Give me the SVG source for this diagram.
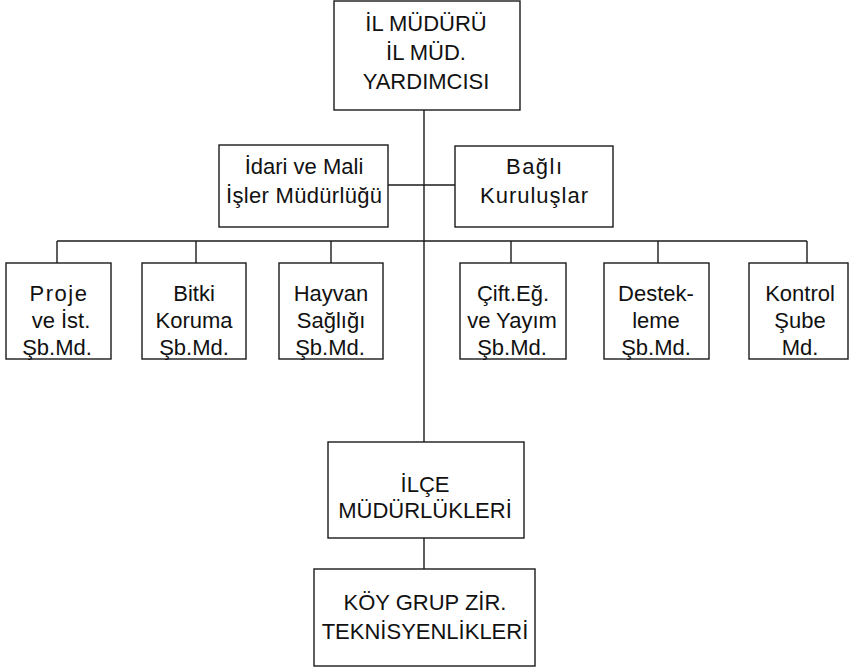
<svg xmlns="http://www.w3.org/2000/svg" width="850" height="670" viewBox="0 0 850 670">
  <style>
    .box { fill: #ffffff; stroke: #1a1a1a; stroke-width: 1.4; }
    .wire { fill: none; stroke: #1a1a1a; stroke-width: 1.4; }
    .lbl { font-family: "Liberation Sans", Arial, Helvetica, sans-serif; font-size: 22px; fill: #111111; text-anchor: middle; }
  </style>
  <rect width="850" height="670" fill="#ffffff"/>

  <!-- connectors -->
  <g id="connectors">
    <line class="wire" x1="424" y1="110" x2="424" y2="442"/>
    <line class="wire" x1="388" y1="185" x2="455" y2="185"/>
    <line class="wire" x1="57" y1="241" x2="807" y2="241"/>
    <line class="wire" x1="57" y1="241" x2="57" y2="263"/>
    <line class="wire" x1="196" y1="241" x2="196" y2="263"/>
    <line class="wire" x1="331" y1="241" x2="331" y2="263"/>
    <line class="wire" x1="511" y1="241" x2="511" y2="263"/>
    <line class="wire" x1="658" y1="241" x2="658" y2="263"/>
    <line class="wire" x1="807" y1="241" x2="807" y2="263"/>
    <line class="wire" x1="424" y1="538" x2="424" y2="569"/>
  </g>

  <!-- top management -->
  <g id="il-muduru">
    <rect class="box" x="334" y="1" width="186" height="109"/>
    <text class="lbl" x="426" y="31">İL MÜDÜRÜ</text>
    <text class="lbl" x="426" y="60">İL MÜD.</text>
    <text class="lbl" x="426" y="89">YARDIMCISI</text>
  </g>

  <g id="idari-mali">
    <rect class="box" x="219" y="145" width="169" height="82"/>
    <text class="lbl" x="304" y="174">İdari ve Mali</text>
    <text class="lbl" x="304" y="203" textLength="156" lengthAdjust="spacing">İşler Müdürlüğü</text>
  </g>

  <g id="bagli-kuruluslar">
    <rect class="box" x="455" y="146" width="158" height="81"/>
    <text class="lbl" x="534" y="174" textLength="56" lengthAdjust="spacing">Bağlı</text>
    <text class="lbl" x="534" y="203" textLength="108" lengthAdjust="spacing">Kuruluşlar</text>
  </g>

  <!-- branch offices -->
  <g id="proje">
    <rect class="box" x="6" y="263" width="105" height="96"/>
    <text class="lbl" x="59" y="301" letter-spacing="1.5">Proje</text>
    <text class="lbl" x="61" y="328">ve İst.</text>
    <text class="lbl" x="57" y="355">Şb.Md.</text>
  </g>

  <g id="bitki">
    <rect class="box" x="142" y="263" width="104" height="96"/>
    <text class="lbl" x="194" y="301">Bitki</text>
    <text class="lbl" x="194" y="328">Koruma</text>
    <text class="lbl" x="194" y="355">Şb.Md.</text>
  </g>

  <g id="hayvan">
    <rect class="box" x="279" y="263" width="104" height="96"/>
    <text class="lbl" x="331" y="301">Hayvan</text>
    <text class="lbl" x="331" y="328">Sağlığı</text>
    <text class="lbl" x="330" y="355">Şb.Md.</text>
  </g>

  <g id="ciftci-egitim">
    <rect class="box" x="460" y="263" width="106" height="96"/>
    <text class="lbl" x="513" y="301">Çift.Eğ.</text>
    <text class="lbl" x="512" y="328">ve Yayım</text>
    <text class="lbl" x="512" y="355">Şb.Md.</text>
  </g>

  <g id="destekleme">
    <rect class="box" x="604" y="263" width="105" height="96"/>
    <text class="lbl" x="656" y="301">Destek-</text>
    <text class="lbl" x="656" y="328">leme</text>
    <text class="lbl" x="656" y="355">Şb.Md.</text>
  </g>

  <g id="kontrol">
    <rect class="box" x="749" y="263" width="99" height="96"/>
    <text class="lbl" x="800" y="301">Kontrol</text>
    <text class="lbl" x="800" y="328">Şube</text>
    <text class="lbl" x="800" y="355">Md.</text>
  </g>

  <!-- district level -->
  <g id="ilce">
    <rect class="box" x="328" y="442" width="196" height="96"/>
    <text class="lbl" x="425" y="492">İLÇE</text>
    <text class="lbl" x="425" y="518">MÜDÜRLÜKLERİ</text>
  </g>

  <g id="koy-grup">
    <rect class="box" x="314" y="569" width="221" height="97"/>
    <text class="lbl" x="425" y="610">KÖY GRUP ZİR.</text>
    <text class="lbl" x="425" y="639">TEKNİSYENLİKLERİ</text>
  </g>
</svg>
